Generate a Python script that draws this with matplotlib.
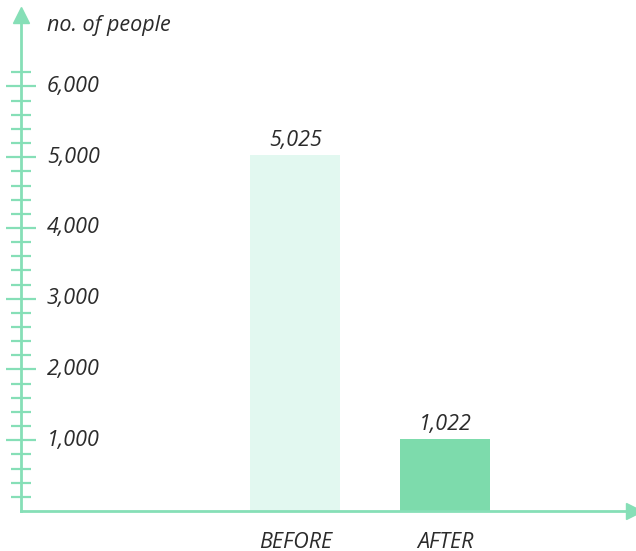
import numpy as np
import matplotlib
matplotlib.use('Agg')
import matplotlib.pyplot as plt
from matplotlib.ticker import FixedLocator
import matplotlib.transforms as mtransforms

categories = ['BEFORE', 'AFTER']
values = [5025, 1022]
value_labels = ['5,025', '1,022']
tick_values = [1000, 2000, 3000, 4000, 5000, 6000]
tick_labels = ['1,000', '2,000', '3,000', '4,000', '5,000', '6,000']
minor_ticks = [v for v in range(200, 6400, 200) if v % 1000 != 0]
axis_title = 'no. of people'

GREEN = '#86dfb7'
TEXT = '#2b2b2b'
plt.rcParams['font.family'] = ['Open Sans', 'DejaVu Sans']
FS = 15.5

fig = plt.figure(figsize=(6.36, 5.51), dpi=100)
# axes box in pixels: x 21..634, y 15..511 (from top)
ax = fig.add_axes([21/636, 40/551, 613/636, 496/551])

x = np.arange(len(categories))
ax.bar(x, values, width=0.6, color=['#e2f8f0', '#7ddbac'], zorder=1)
for xi, v, lab in zip(x, values, value_labels):
    ax.annotate(lab, (xi, v), xytext=(0, 3), textcoords='offset points',
                ha='center', va='bottom', fontsize=FS, style='italic', color=TEXT)

ax.set_xlim(-1.83, 2.257)
ax.set_ylim(0, 7010)

for s in ['top', 'right']:
    ax.spines[s].set_visible(False)
for s in ['left', 'bottom']:
    ax.spines[s].set_color(GREEN)
    ax.spines[s].set_linewidth(2)
    ax.spines[s].set_zorder(3)

ax.set_yticks(tick_values)
ax.yaxis.set_minor_locator(FixedLocator(minor_ticks))
ax.set_yticklabels([])
ax.tick_params(axis='y', which='major', direction='inout', length=21, width=1.6, color=GREEN)
ax.tick_params(axis='y', which='minor', direction='inout', length=15, width=1.6, color=GREEN)
ax.set_xticks([])

# tick labels to the right of the axis
trans = mtransforms.blended_transform_factory(ax.transAxes, ax.transData)
for tv, tl in zip(tick_values, tick_labels):
    ax.text(26/613, tv, tl, transform=trans, ha='left', va='center',
            fontsize=FS, style='italic', color=TEXT)

ax.text(26/613, 1.0 - 10/496, axis_title, transform=ax.transAxes, ha='left', va='center',
        fontsize=FS, style='italic', color=TEXT)

xtrans = mtransforms.blended_transform_factory(ax.transData, ax.transAxes)
for xi, c in zip(x, categories):
    ax.text(xi, -31/496, c, transform=xtrans, ha='center', va='center',
            fontsize=FS, style='italic', color=TEXT, clip_on=False)

# arrow heads
ax.plot(0, 1, '^', color=GREEN, ms=12, transform=ax.transAxes, clip_on=False, zorder=4)
ax.plot(1, 0, '>', color=GREEN, ms=12, transform=ax.transAxes, clip_on=False, zorder=4)

fig.savefig('out.png', dpi=100)
